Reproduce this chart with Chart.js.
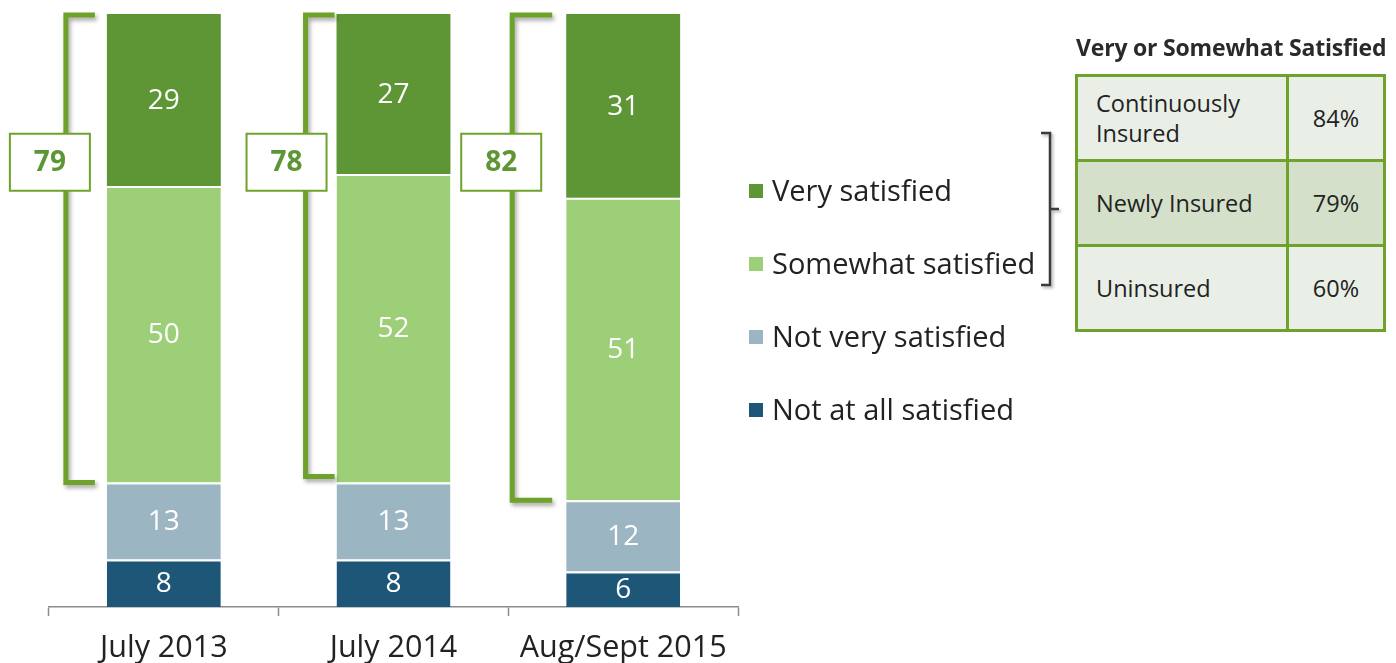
<!DOCTYPE html>
<html>
<head>
<meta charset="utf-8">
<script src="https://cdn.jsdelivr.net/npm/chart.js@4.4.1/dist/chart.umd.min.js"></script>
<style>
  html, body { margin: 0; padding: 0; background: #fff; }
  #wrap { position: relative; width: 1396px; height: 663px; font-family: 'Open Sans', sans-serif; color: #222; }
  #chart { position: absolute; left: 0; top: 0; }
  #legend { position: absolute; left: 749px; top: 169px; }
  .legend-item { height: 73px; display: flex; align-items: flex-start; font-size: 29px; line-height: 42px; }
  .legend-item span.sw { width: 14px; height: 14px; margin: 15px 9px 0 0; flex: none; }
  #side-title { position: absolute; left: 1076px; top: 31px; font-size: 23px; font-weight: bold; color: #2a2a2a; white-space: nowrap; letter-spacing: -0.2px; }
  #side-table { position: absolute; left: 1075px; top: 74px; border-collapse: collapse; font-size: 23.5px; color: #222; }
  #side-table td { border: 3px solid #6ea22a; height: 82px; padding: 0; line-height: 30px; }
  #side-table td.name { width: 190px; padding-left: 18px; }
  #side-table td.pct { width: 94px; text-align: center; }
  #brace { position: absolute; left: 1036px; top: 130px; }
</style>
</head>
<body>
<div id="wrap">
  <canvas id="chart" width="1396" height="663"></canvas>
  <div id="legend"></div>
  <div id="side-title">Very or Somewhat Satisfied</div>
  <table id="side-table"></table>
  <canvas id="brace" width="30" height="162"></canvas>
</div>
<script>
// Survey waves on the x axis
const WAVES = ['July 2013', 'July 2014', 'Aug/Sept 2015'];

// Stacked from bottom to top
const SERIES_LABELS = ['Not at all satisfied', 'Not very satisfied', 'Somewhat satisfied', 'Very satisfied'];
const SERIES_COLORS = ['#1d5677', '#9bb5c2', '#9ccf78', '#5e9636'];
const NOT_AT_ALL = [8, 8, 6];
const NOT_VERY = [13, 13, 12];
const SOMEWHAT = [50, 52, 51];
const VERY = [29, 27, 31];

// Very + somewhat satisfied, shown in the green brackets
const SATISFIED_TOTALS = [79, 78, 82];

// Side table
const GROUPS = ['Continuously Insured', 'Newly Insured', 'Uninsured'];
const GROUP_SATISFIED = [84, 79, 60];

const BRACKET_GREEN = '#6ea22a';
// x offsets (px) from each bar's left edge: bracket spine, arm tip, label box centre
const BRACKET_LAYOUT = [
  { spine: -41, arm: -12, box: -16 },
  { spine: -31, arm: -2, box: -19 },
  { spine: -54, arm: -14, box: -11 },
];

const seriesValues = [NOT_AT_ALL, NOT_VERY, SOMEWHAT, VERY];

// value labels centred in each segment
const segmentLabels = {
  id: 'segmentLabels',
  afterDatasetsDraw(chart) {
    const { ctx } = chart;
    ctx.save();
    ctx.fillStyle = '#fff';
    ctx.font = '28px "Open Sans"';
    ctx.textAlign = 'center';
    ctx.textBaseline = 'middle';
    chart.data.datasets.forEach((ds, di) => {
      chart.getDatasetMeta(di).data.forEach((bar, i) => {
        const mid = (bar.y + bar.base) / 2;
        ctx.fillText(String(ds.data[i]), bar.x, mid + 1);
      });
    });
    ctx.restore();
  },
};

// green brackets spanning the two "satisfied" segments, with the total in a box
const satisfiedBrackets = {
  id: 'satisfiedBrackets',
  afterDatasetsDraw(chart) {
    const { ctx } = chart;
    const y = chart.scales.y;
    const bars = chart.getDatasetMeta(0).data;
    bars.forEach((bar, i) => {
      const lay = BRACKET_LAYOUT[i];
      const left = bar.x - bar.width / 2;
      const xs = left + lay.spine;
      const xa = left + lay.arm;
      const top = y.getPixelForValue(100) + 1;
      const bottom = y.getPixelForValue(100 - SATISFIED_TOTALS[i]);

      ctx.save();
      ctx.strokeStyle = BRACKET_GREEN;
      ctx.lineWidth = 5;
      ctx.lineJoin = 'miter';
      ctx.shadowColor = 'rgba(0,0,0,0.35)';
      ctx.shadowBlur = 4;
      ctx.shadowOffsetX = 2;
      ctx.shadowOffsetY = 3;
      ctx.beginPath();
      ctx.moveTo(xa, top);
      ctx.lineTo(xs, top);
      ctx.lineTo(xs, bottom);
      ctx.lineTo(xa, bottom);
      ctx.stroke();
      ctx.restore();

      const bx = left + lay.spine + lay.box;
      const by = y.getPixelForValue(75);
      const w = 80, h = 57;
      ctx.save();
      ctx.fillStyle = '#fff';
      ctx.fillRect(bx - w / 2, by - h / 2, w, h);
      ctx.strokeStyle = BRACKET_GREEN;
      ctx.lineWidth = 2;
      ctx.strokeRect(bx - w / 2, by - h / 2, w, h);
      ctx.fillStyle = '#5e9636';
      ctx.font = 'bold 28px "Open Sans"';
      ctx.textAlign = 'center';
      ctx.textBaseline = 'middle';
      ctx.fillText(String(SATISFIED_TOTALS[i]), bx, by + 1);
      ctx.restore();
    });
  },
};

new Chart(document.getElementById('chart'), {
  type: 'bar',
  data: {
    labels: WAVES,
    datasets: seriesValues.map((vals, i) => ({
      label: SERIES_LABELS[i],
      data: vals,
      backgroundColor: SERIES_COLORS[i],
      borderColor: '#fff',
      borderWidth: i === seriesValues.length - 1 ? 0 : { top: 2, left: 0, right: 0, bottom: 0 },
      borderSkipped: false,
      categoryPercentage: 1,
      barPercentage: 0.496,
    })),
  },
  options: {
    responsive: false,
    animation: false,
    layout: { padding: { left: 49, right: 658, top: 14, bottom: 0 } },
    plugins: {
      legend: { display: false },
      tooltip: { enabled: false },
    },
    scales: {
      x: {
        stacked: true,
        afterFit(scale) { scale.height = 56; },
        grid: { drawOnChartArea: false, drawTicks: true, tickLength: 9, tickColor: '#8c8c8c', tickWidth: 1.5 },
        border: { display: true, color: '#8c8c8c', width: 1.5 },
        ticks: {
          color: '#222',
          padding: 14,
          font: { family: 'Open Sans', size: 30.5 },
        },
      },
      y: {
        stacked: true,
        min: 0,
        max: 100,
        display: false,
      },
    },
  },
  plugins: [segmentLabels, satisfiedBrackets],
});

// legend, top item first
const legend = document.getElementById('legend');
for (let i = SERIES_LABELS.length - 1; i >= 0; i--) {
  const item = document.createElement('div');
  item.className = 'legend-item';
  const sw = document.createElement('span');
  sw.className = 'sw';
  sw.style.background = SERIES_COLORS[i];
  item.appendChild(sw);
  item.appendChild(document.createTextNode(SERIES_LABELS[i]));
  legend.appendChild(item);
}

// side table
const ROW_FILLS = ['#e9efe6', '#d4e0ca', '#e9efe6'];
const table = document.getElementById('side-table');
GROUPS.forEach((g, i) => {
  const tr = document.createElement('tr');
  tr.style.background = ROW_FILLS[i];
  const a = document.createElement('td');
  a.className = 'name';
  a.textContent = g;
  const b = document.createElement('td');
  b.className = 'pct';
  b.textContent = GROUP_SATISFIED[i] + '%';
  tr.appendChild(a);
  tr.appendChild(b);
  table.appendChild(tr);
});

// black brace joining the legend's satisfied items to the table
const bc = document.getElementById('brace').getContext('2d');
bc.strokeStyle = '#3a3a3a';
bc.lineWidth = 2.5;
bc.shadowColor = 'rgba(0,0,0,0.3)';
bc.shadowBlur = 3;
bc.shadowOffsetX = 2;
bc.shadowOffsetY = 2;
bc.beginPath();
bc.moveTo(5, 3);
bc.lineTo(14, 3);
bc.lineTo(14, 155);
bc.lineTo(5, 155);
bc.moveTo(14, 79);
bc.lineTo(23, 79);
bc.stroke();
</script>
</body>
</html>
